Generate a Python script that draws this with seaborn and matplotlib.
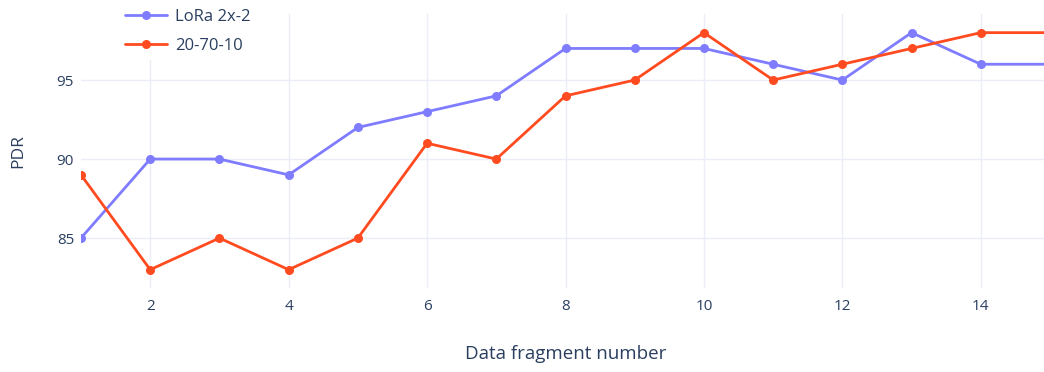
import matplotlib
matplotlib.use("Agg")
import matplotlib.pyplot as plt
import seaborn as sns
import pandas as pd

fragments = list(range(1, 16))
lora_pdr = [85, 90, 90, 89, 92, 93, 94, 97, 97, 97, 96, 95, 98, 96, 96]
split_pdr = [89, 83, 85, 83, 85, 91, 90, 94, 95, 98, 95, 96, 97, 98, 98]
series_names = ["LoRa 2x-2", "20-70-10"]
series_colors = ["#7F7CFF", "#FF4B1F"]
x_ticks = [2, 4, 6, 8, 10, 12, 14]
y_ticks = [85, 90, 95]

df = pd.DataFrame({
    "fragment": fragments * 2,
    "pdr": lora_pdr + split_pdr,
    "series": [series_names[0]] * len(fragments) + [series_names[1]] * len(fragments),
})

sns.set_theme(style="white")
plt.rcParams["font.family"] = ["Open Sans", "DejaVu Sans"]
text_color = "#2A3F5F"
grid_color = "#EBEEF7"

W, H = 1044, 372
fig = plt.figure(figsize=(W / 100, H / 100), dpi=100)
left, right, top, bottom = 81, 1050, 14, 288
ax = fig.add_axes([left / W, 1 - bottom / H, (right - left) / W, (bottom - top) / H])

sns.lineplot(
    data=df, x="fragment", y="pdr", hue="series", hue_order=series_names,
    palette=series_colors, marker="o", markersize=6.5, markeredgewidth=0,
    linewidth=2, ax=ax, legend=False,
)

ax.set_xlim(1, 15)
ax.set_ylim(81.84, 99.18)
ax.set_xticks(x_ticks)
ax.set_yticks(y_ticks)
ax.set_xlabel("")
ax.set_ylabel("")
for s in ax.spines.values():
    s.set_visible(False)
ax.grid(True, color=grid_color, linewidth=1)
ax.set_axisbelow(True)
ax.tick_params(axis="both", length=0, labelsize=11, colors=text_color)
ax.tick_params(axis="x", pad=8)
ax.tick_params(axis="y", pad=5)

fig.text(18 / W, 1 - 151 / H, "PDR", rotation=90, ha="center", va="center",
         fontsize=12.5, color=text_color)
fig.text(566 / W, 1 - 354 / H, "Data fragment number", ha="center", va="center",
         fontsize=13.5, color=text_color)

# legend block at the top-left, with an opaque white background
handles = [
    plt.Line2D([], [], color=c, marker="o", markersize=6.5, markeredgewidth=0, linewidth=2)
    for c in series_colors
]
leg = fig.legend(
    handles, series_names, loc="upper left",
    bbox_to_anchor=(120 / W, 1 - 4 / H), frameon=True, fontsize=12,
    labelcolor=text_color, handlelength=2.5, handletextpad=0.5,
    labelspacing=0.75, borderpad=0.3, borderaxespad=0,
)
leg.get_frame().set_facecolor("white")
leg.get_frame().set_edgecolor("white")
leg.get_frame().set_alpha(1)

fig.savefig("out.png", dpi=100)
